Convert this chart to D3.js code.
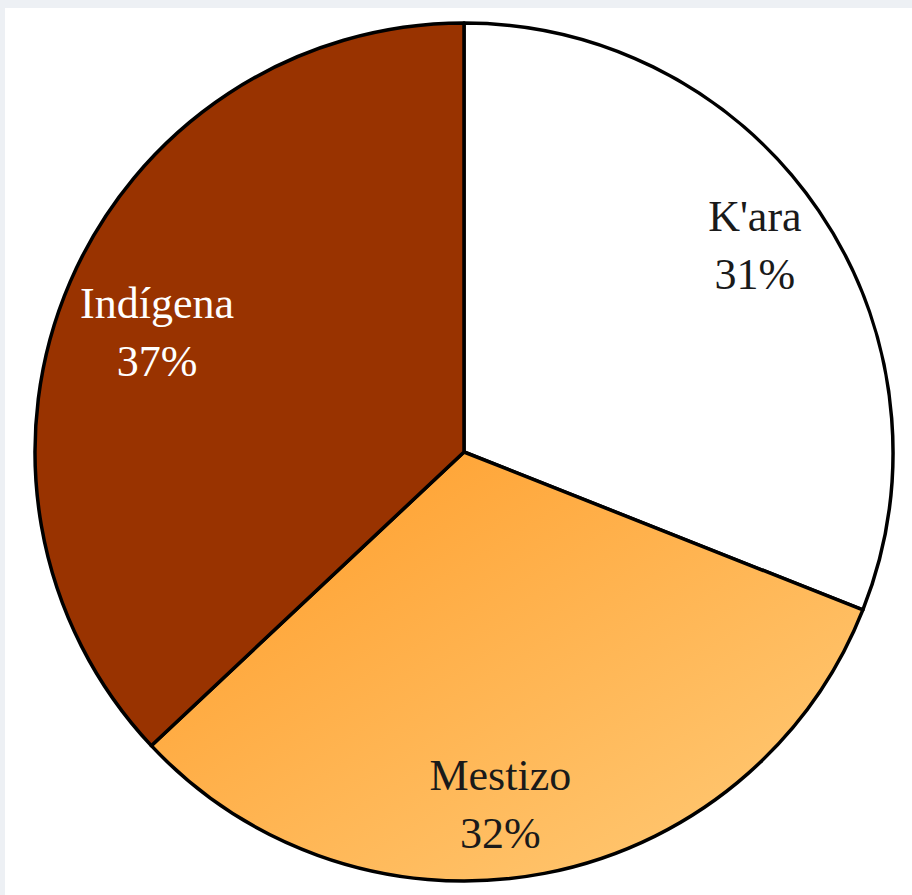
<!DOCTYPE html>
<html>
<head>
<meta charset="utf-8">
<script src="https://cdn.jsdelivr.net/npm/d3@7"></script>
<style>
  html, body { margin: 0; padding: 0; background: #edf0f4; }
  svg { display: block; }
</style>
</head>
<body>
<script>
// Composition of the population by group
const categories = ["K'ara", "Mestizo", "Indígena"];
const values = [31, 32, 37];
const labelColors = ["#1a1a1a", "#1a1a1a", "#ffffff"];

const W = 912, H = 895;
const cx = 464, cy = 452, R = 429;

// small hand placement tweaks for the labels, relative to the slice centroid
const labelNudge = { "K'ara": [7, -12], "Mestizo": [-28, 17], "Indígena": [8, 18] };

const svg = d3.select("body").append("svg")
  .attr("xmlns", "http://www.w3.org/2000/svg")
  .attr("width", W).attr("height", H);

const defs = svg.append("defs");
const grad = defs.append("linearGradient").attr("id", "mestizoGrad")
  .attr("x1", "0").attr("y1", "0").attr("x2", "1").attr("y2", "1");
grad.append("stop").attr("offset", "0").attr("stop-color", "#ff9c28");
grad.append("stop").attr("offset", "1").attr("stop-color", "#ffcc7a");

// white panel
svg.append("rect").attr("x", 5).attr("y", 8).attr("width", W - 5).attr("height", H - 8)
  .attr("fill", "#ffffff");

const fills = ["#ffffff", "url(#mestizoGrad)", "#993300"];

const pie = d3.pie().sort(null).value(d => d.value);
const data = categories.map((c, i) => ({ name: c, value: values[i], i }));
const arcs = pie(data);

const arc = d3.arc().innerRadius(0).outerRadius(R);
const labelArc = d3.arc().innerRadius(R * 0.8).outerRadius(R * 0.8);

const g = svg.append("g").attr("transform", `translate(${cx},${cy})`);

g.selectAll("path.slice").data(arcs).enter().append("path")
  .attr("class", "slice")
  .attr("d", arc)
  .style("fill", d => fills[d.data.i])
  .attr("stroke", "#000")
  .attr("stroke-width", 3.5)
  .attr("stroke-linejoin", "round");

const labels = g.selectAll("g.label").data(arcs).enter().append("g")
  .attr("class", "label")
  .attr("transform", d => {
    const [x, y] = labelArc.centroid(d);
    const [nx, ny] = labelNudge[d.data.name];
    return `translate(${x + nx},${y + ny})`;
  });

labels.append("text")
  .attr("text-anchor", "middle")
  .attr("y", -16)
  .attr("font-family", "'Liberation Serif', 'DejaVu Serif', serif")
  .attr("font-size", 44)
  .attr("fill", d => labelColors[d.data.i])
  .text(d => d.data.name);

labels.append("text")
  .attr("text-anchor", "middle")
  .attr("y", 42)
  .attr("font-family", "'Liberation Serif', 'DejaVu Serif', serif")
  .attr("font-size", 44)
  .attr("fill", d => labelColors[d.data.i])
  .text(d => d.data.value + "%");
</script>
</body>
</html>
